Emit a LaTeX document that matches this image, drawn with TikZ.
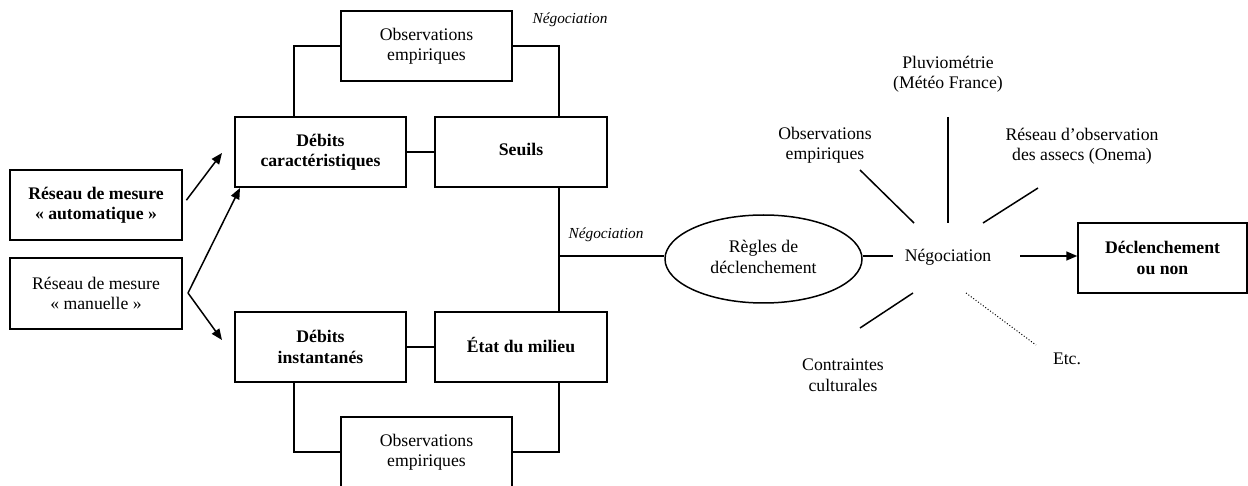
\documentclass[tikz,border=0pt]{standalone}
\usepackage{fontspec}
\setmainfont{Liberation Serif}
\usetikzlibrary{arrows.meta,calc,shapes.geometric}
\begin{document}
\begin{tikzpicture}[x=1pt,y=-1pt,
  every node/.style={font=\fontsize{17.7}{20.5}\selectfont, align=center, inner sep=0pt},
  box/.style={draw, line width=1.5pt, minimum width=171pt, minimum height=70pt},
  ln/.style={line width=1.5pt},
  arr/.style={line width=1.5pt, -{Triangle[length=11pt,width=9pt]}},
  ital/.style={font=\fontsize{15.3}{18}\selectfont\itshape}]
\useasboundingbox (0,0) rectangle (1248,486);
% left boxes
\node[box, minimum width=172pt] (auto) at (96,205) {\bfseries Réseau de mesure\\\bfseries « automatique »};
\node[box, minimum width=172pt, minimum height=71pt] (man) at (96,293.5) {Réseau de mesure\\« manuelle »};
% middle boxes
\node[box] (debc) at (320.5,152) {\bfseries Débits\\\bfseries caractéristiques};
\node[box, minimum width=172pt] (seuils) at (521,152) {\raisebox{5pt}{\bfseries Seuils}};
\node[box] (obsT) at (426.5,46) {Observations\\empiriques};
\node[box] (debi) at (320.5,347) {\bfseries Débits\\\bfseries instantanés};
\node[box, minimum width=172pt] (etat) at (521,347) {\raisebox{5pt}{\bfseries État du milieu}};
\node[box] (obsB) at (426.5,452) {Observations\\empiriques};
\node[ital] (negT) at (570,20) {Négociation};
\node[ital] (negM) at (606,235) {Négociation};
% ellipse
\node[draw, ellipse, line width=1.5pt, minimum width=197pt, minimum height=88pt] (ell) at (763.5,259) {};
\node (ellT) at (763.5,257) {Règles de\\déclenchement};
% right part
\node (neg) at (948,257) {Négociation};
\node (obsR) at (825,145) {Observations\\empiriques};
\node (pluv) at (948,74) {Pluviométrie\\(Météo France)};
\node (res) at (1082,146) {Réseau d’observation\\des assecs (Onema)};
\node (contr) at (843,375) {Contraintes\\culturales};
\node (etc) at (1067,359) {Etc.};
\node[box, minimum width=169pt] (decl) at (1162.5,258) {\bfseries Déclenchement\\\bfseries ou non};
% coordinates
\coordinate (lx) at (294,0);
\coordinate (vx) at (559,0);
\coordinate (jn) at (559,256);
\coordinate (a1e) at (222,153);
\coordinate (ms) at (188,293);
\coordinate (m1e) at (240,188);
\coordinate (m2e) at (222,340);
\coordinate (nl) at (893,256);
\coordinate (s1a) at (860,170); \coordinate (s1b) at (914,223);
\coordinate (s2a) at (948,117); \coordinate (s2b) at (948,223);
\coordinate (s3a) at (983,223); \coordinate (s3b) at (1038,188);
\coordinate (s4a) at (913,293); \coordinate (s4b) at (860,328);
\coordinate (s5a) at (966,293); \coordinate (s5b) at (1036,345);
\coordinate (ar) at (1020,256);
% connectors
\draw[arr, shorten <=6pt] (auto.east) -- (a1e);
\draw[arr] (ms) -- (m1e);
\draw[arr] (ms) -- (m2e);
\draw[ln] (debc.east) -- (seuils.west);
\draw[ln] (debi.east) -- (etat.west);
\draw[ln] (obsT.west) -| (debc.north -| lx);
\draw[ln] (obsT.east) -| (seuils.north -| vx);
\draw[ln] (debi.south -| lx) |- (obsB.west);
\draw[ln] (obsB.east) -| (etat.south -| vx);
\draw[ln] (seuils.south -| vx) -- (etat.north -| vx);
\draw[ln] (jn) -- (jn -| ell.west);
\draw[ln] (nl -| ell.east) -- (nl);
\draw[ln] (s1a) -- (s1b);
\draw[ln] (s2a) -- (s2b);
\draw[ln] (s3a) -- (s3b);
\draw[ln] (s4a) -- (s4b);
\draw[line width=1pt, dotted] (s5a) -- (s5b);
\draw[arr] (ar) -- (ar -| decl.west);
\end{tikzpicture}
\end{document}
